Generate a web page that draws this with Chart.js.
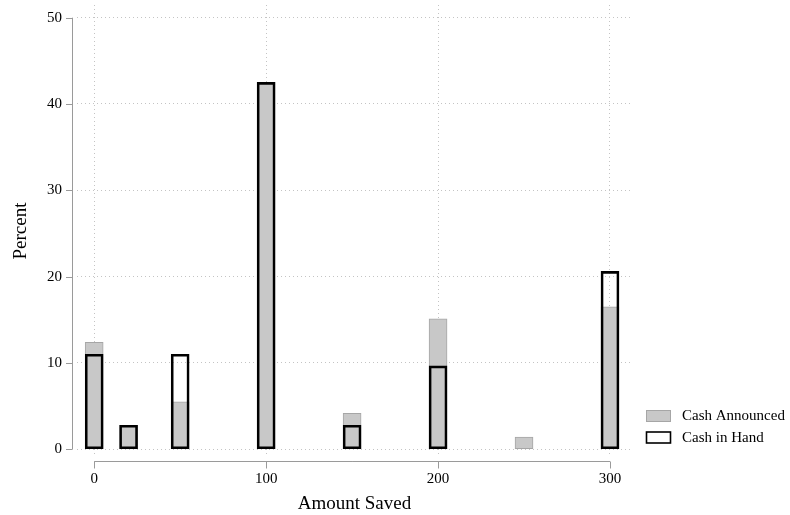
<!DOCTYPE html>
<html>
<head>
<meta charset="utf-8">
<script src="https://cdn.jsdelivr.net/npm/chart.js@4/dist/chart.umd.min.js"></script>
<style>
    html, body { margin: 0; padding: 0; background: #fff; }
    #wrap { width: 790px; height: 515px; }
</style>
</head>
<body>
<div id="wrap"><canvas id="grafico"></canvas></div>
<script>
// valores (percentual por faixa de valor poupado)
const valores = [0, 20, 50, 100, 150, 200, 250, 300];
const cashAnnounced = [12.4, 2.78, 5.5, 42.5, 4.17, 15.1, 1.42, 16.5];
const cashInHand = [11.0, 2.78, 11.0, 42.5, 2.78, 9.65, null, 20.6];
const ticksY = [0, 10, 20, 30, 40, 50];
const ticksX = [0, 100, 200, 300];

const fonte = "'Liberation Serif', 'Times New Roman', serif";
const corEixo = "#9a9a9a";

function pontos(serie) {
    return valores.map((v, i) => ({ x: v, y: serie[i] }));
}

// eixos no estilo Stata, afastados da area do grafico
const eixosPlugin = {
    id: "eixos",
    afterDraw(chart) {
        const ctx = chart.ctx;
        const area = chart.chartArea;
        const sx = chart.scales.x;
        const sy = chart.scales.y;
        ctx.save();
        ctx.strokeStyle = corEixo;
        ctx.lineWidth = 1;

        const xe = area.left - 4.5;
        ctx.beginPath();
        ctx.moveTo(xe, sy.getPixelForValue(ticksY[0]));
        ctx.lineTo(xe, sy.getPixelForValue(ticksY[ticksY.length - 1]));
        ticksY.forEach(t => {
            const p = Math.round(sy.getPixelForValue(t)) + 0.5;
            ctx.moveTo(xe, p);
            ctx.lineTo(xe - 6.5, p);
        });
        ctx.stroke();

        const ye = area.bottom + 4.5;
        ctx.beginPath();
        ctx.moveTo(sx.getPixelForValue(ticksX[0]), ye);
        ctx.lineTo(sx.getPixelForValue(ticksX[ticksX.length - 1]), ye);
        ticksX.forEach(t => {
            const p = Math.round(sx.getPixelForValue(t)) + 0.5;
            ctx.moveTo(p, ye);
            ctx.lineTo(p, ye + 7);
        });
        ctx.stroke();

        // legenda
        ctx.font = "15px " + fonte;
        ctx.textBaseline = "middle";
        ctx.fillStyle = "#000";
        chart.data.datasets.forEach((ds, i) => {
            const bx = 646.5, by = 410.5 + i * 21.5;
            ctx.fillStyle = ds.backgroundColor === "rgba(0,0,0,0)" ? "#fff" : ds.backgroundColor;
            ctx.fillRect(bx, by, 24, 11);
            ctx.strokeStyle = ds.borderColor;
            ctx.lineWidth = ds.borderWidth === 2 ? 1.6 : 1;
            ctx.strokeRect(bx, by, 24, 11);
            ctx.fillStyle = "#000";
            ctx.fillText(ds.label, 682, by + 6);
        });
        ctx.restore();
    }
};

new Chart(document.getElementById("grafico"), {
    type: "bar",
    data: {
        datasets: [
            {
                label: "Cash Announced",
                data: pontos(cashAnnounced),
                backgroundColor: "#c8c8c8",
                borderColor: "#a6a6a6",
                borderWidth: 1,
                borderSkipped: false,
                barThickness: 18,
                grouped: false,
                order: 2
            },
            {
                label: "Cash in Hand",
                data: pontos(cashInHand),
                backgroundColor: "rgba(0,0,0,0)",
                borderColor: "#000",
                borderWidth: 2,
                borderSkipped: false,
                barThickness: 18,
                grouped: false,
                order: 1
            }
        ]
    },
    options: {
        responsive: true,
        maintainAspectRatio: false,
        animation: false,
        layout: { autoPadding: false, padding: { left: 0, right: 158, top: 5, bottom: 0 } },
        plugins: {
            legend: { display: false },
            tooltip: { enabled: false }
        },
        scales: {
            x: {
                type: "linear",
                offset: false,
                min: -10,
                max: 312.8,
                afterBuildTicks: s => { s.ticks = ticksX.map(v => ({ value: v })); },
                afterFit: s => { s.height = 58; s.paddingLeft = 0; s.paddingRight = 0; },
                grid: { color: "#c4c4c4", lineWidth: 1, drawTicks: false, offset: false },
                border: { display: false, dash: [1, 3] },
                ticks: { padding: 13, color: "#000", font: { family: fonte, size: 15 } },
                title: {
                    display: true,
                    text: "Amount Saved",
                    color: "#000",
                    font: { family: fonte, size: 19 },
                    padding: { top: 0, bottom: 0 }
                }
            },
            y: {
                min: -0.9,
                max: 51.47,
                afterBuildTicks: s => { s.ticks = ticksY.map(v => ({ value: v })); },
                afterFit: s => { s.width = 77; s.paddingTop = 0; s.paddingBottom = 0; },
                grid: { color: "#c4c4c4", lineWidth: 1, drawTicks: false },
                border: { display: false, dash: [1, 3] },
                ticks: { padding: 15, color: "#000", font: { family: fonte, size: 15 } },
                title: {
                    display: true,
                    text: "Percent",
                    color: "#000",
                    font: { family: fonte, size: 19 },
                    padding: { top: 10, bottom: 0 }
                }
            }
        }
    },
    plugins: [eixosPlugin]
});
</script>
</body>
</html>
